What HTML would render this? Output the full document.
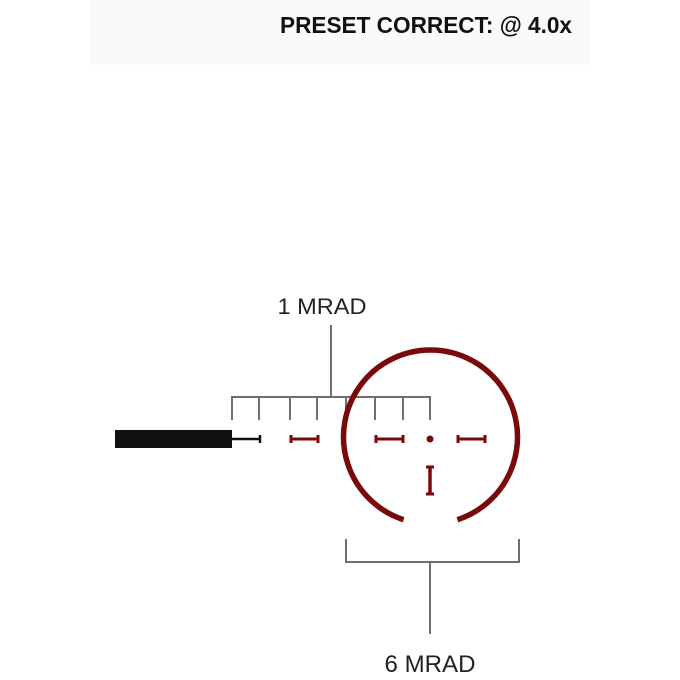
<!DOCTYPE html>
<html><head><style>html,body{margin:0;padding:0;background:#fff;}svg{display:block}</style></head>
<body>
<svg width="680" height="680" viewBox="0 0 680 680" xmlns="http://www.w3.org/2000/svg">
<rect x="90" y="0" width="500" height="65" fill="#fafafa"/>
<text x="280" y="33" font-family="Liberation Sans, sans-serif" font-weight="bold" font-size="23" fill="#111" textLength="292" lengthAdjust="spacingAndGlyphs">PRESET CORRECT: @ 4.0x</text>

<g stroke="#6f6f6f" stroke-width="2" fill="none">
<line x1="331" y1="325" x2="331" y2="397"/>
<line x1="231" y1="397" x2="431" y2="397"/>
<line x1="232" y1="397" x2="232" y2="420"/>
<line x1="259" y1="397" x2="259" y2="420"/>
<line x1="290" y1="397" x2="290" y2="420"/>
<line x1="317" y1="397" x2="317" y2="420"/>
<line x1="346" y1="397" x2="346" y2="420"/>
<line x1="375" y1="397" x2="375" y2="420"/>
<line x1="403" y1="397" x2="403" y2="420"/>
<line x1="430" y1="397" x2="430" y2="420"/>
<polyline points="346,539 346,562 519,562 519,539"/>
<line x1="430" y1="562" x2="430" y2="634"/>
</g>
<text x="322" y="314" text-anchor="middle" font-family="Liberation Sans, sans-serif" font-size="22" fill="#222" textLength="89" lengthAdjust="spacingAndGlyphs">1 MRAD</text>
<text x="430" y="672" text-anchor="middle" font-family="Liberation Sans, sans-serif" font-size="24" fill="#222" textLength="91" lengthAdjust="spacingAndGlyphs">6 MRAD</text>

<rect x="115" y="430" width="117" height="18" fill="#111"/>
<line x1="232" y1="439" x2="260" y2="439" stroke="#111" stroke-width="2.5"/>
<line x1="260" y1="435" x2="260" y2="443" stroke="#111" stroke-width="2.5"/>

<g stroke="#7a0a0a" stroke-width="3" fill="none">
<line x1="291" y1="439" x2="318" y2="439"/><line x1="291" y1="435" x2="291" y2="443"/><line x1="318" y1="435" x2="318" y2="443"/>
<line x1="376" y1="439" x2="403" y2="439"/><line x1="376" y1="435" x2="376" y2="443"/><line x1="403" y1="435" x2="403" y2="443"/>
<line x1="458" y1="439" x2="485" y2="439"/><line x1="458" y1="435" x2="458" y2="443"/><line x1="485" y1="435" x2="485" y2="443"/>
<line x1="430" y1="467" x2="430" y2="494" stroke-width="3.5"/><line x1="426" y1="467" x2="434" y2="467"/><line x1="426" y1="494" x2="434" y2="494"/>
<path d="M403.6,519.7 A87,87 0 1 1 457.4,519.7" stroke-width="5.5"/>
</g>
<circle cx="430" cy="439" r="3.5" fill="#7a0a0a"/>
</svg>
</body></html>
